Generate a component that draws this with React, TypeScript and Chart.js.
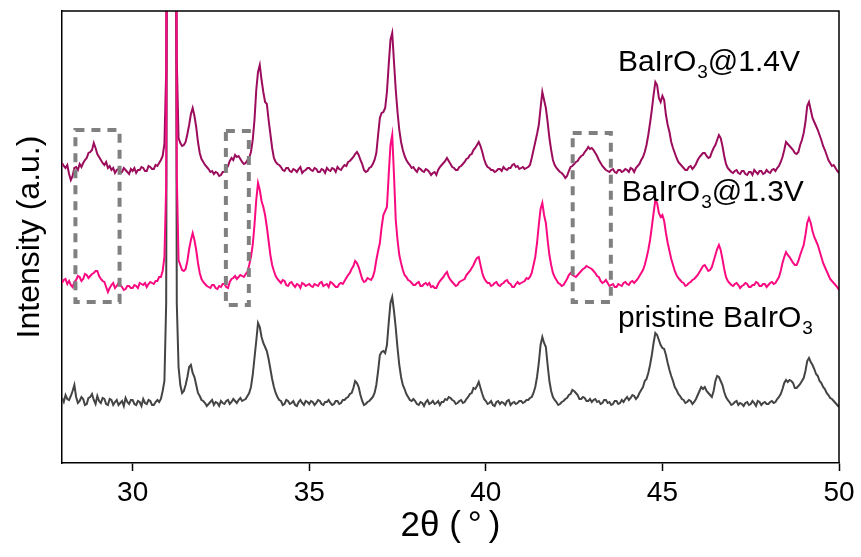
import React, { useEffect, useRef } from "react";
import { Chart, registerables } from "chart.js";

Chart.register(...registerables);

// XRD scan grid (uniform step scan)
const angleStart = 28.0;
const angleStep = 0.05;

// Intensities above each pattern's own baseline (a.u.), one value per 0.05° step, 28.00° → 50.00°
const pristineCounts = [
  5, 1, 8, 4, 3, 7, 12, 18, 6, 0, 2, 6, 4, -2, -1, 5, 6, 9, 3, -1,
  7, 2, 0, 5, 4, -1, -2, 4, 3, -2, 1, 3, -2, 0, 2, -3, 5, 1, -1, 3,
  3, -1, -2, 2, 1, -3, 4, 0, -1, 3, 2, -2, -2, 1, 3, 1, 4, 12, 22, 100,
  900, 1100, 1050, 1000, 850, 100, 36, 18, 10, 12, 18, 26, 36, 38, 30, 26, 18, 10, 7, 3,
  2, 0, -3, -1, 1, 3, -2, 1, 0, -3, 2, 0, -1, 2, 3, -1, 1, 4, 2, 0,
  3, 5, 2, 3, 4, 7, 10, 16, 28, 45, 62, 80, 76, 66, 60, 56, 52, 44, 34, 24,
  16, 10, 6, 3, 2, -2, -1, 3, 2, -1, 0, 2, -2, -3, 1, 3, 0, -2, 2, 1,
  -1, 2, 1, -2, 0, 3, 2, -1, -2, 1, 1, 3, 0, -2, -1, 2, 2, -1, 0, 3,
  3, 5, 6, 9, 10, 15, 22, 20, 16, 8, 2, -2, -1, 1, 2, 4, 6, 10, 18, 32,
  48, 51, 52, 50, 58, 80, 100, 106, 92, 75, 55, 38, 26, 18, 14, 9, 6, 3, 2, 4,
  2, -1, -2, 1, 0, -3, 1, 3, -1, 0, 2, -1, 0, 2, -2, 1, 1, 4, 3, 6,
  5, 3, 2, -1, 0, 2, 3, 0, 1, 4, 6, 9, 10, 15, 14, 17, 21, 15, 9, 4,
  2, -1, 0, 2, -2, -3, 1, 2, -1, 1, 0, -2, 2, 3, -2, 0, 1, -1, 0, 2,
  2, 0, 1, 3, 3, 5, 6, 10, 16, 26, 40, 58, 66, 60, 56, 38, 22, 12, 6, 3,
  1, -2, -1, 1, 2, 4, 5, 8, 9, 13, 12, 10, 8, 4, 4, 6, 5, 2, 2, 4,
  1, 3, 4, 1, 2, -1, 0, 3, 3, 0, 1, -2, -1, 2, 2, -1, 0, 3, 1, 4,
  6, 3, 5, 8, 7, 4, 6, 10, 13, 16, 22, 24, 30, 38, 48, 60, 70, 68, 63, 58,
  55, 54, 48, 40, 33, 27, 22, 16, 13, 9, 7, 4, 3, 0, 1, 3, 2, -1, 1, 4,
  8, 12, 16, 14, 16, 12, 10, 8, 6, 12, 22, 27, 26, 22, 18, 11, 6, 3, 1, -2,
  -1, 1, 2, -2, 0, -1, -3, 0, 1, -2, -1, 2, 0, -3, 2, 1, -2, 0, 1, -1,
  -1, 1, 2, 0, 1, 4, 6, 9, 14, 20, 23, 21, 23, 22, 20, 15, 15, 17, 19, 22,
  25, 32, 42, 45, 41, 38, 34, 29, 27, 22, 20, 16, 14, 10, 8, 5, 4, 2, 0, -2,
  -4,
];

const v13Counts = [
  2, 5, 6, 1, 4, 0, -2, 3, 5, 9, 8, 4, 6, 11, 10, 7, 9, 11, 12, 14,
  14, 9, 6, 4, 3, -2, -7, -3, 0, 2, -3, -1, 2, 0, -2, -5, -4, -1, -1, -3,
  -3, 0, -1, -3, 2, 1, 0, 2, -2, 1, 3, 2, 1, 4, 4, 8, 8, 14, 28, 100,
  900, 1100, 1050, 1000, 850, 110, 25, 20, 15, 14, 16, 24, 36, 45, 52, 45, 35, 22, 12, 6,
  3, 1, -1, -2, -3, 0, 0, -3, -4, -1, -2, 1, 1, -2, -3, 3, 6, 7, 9, 6,
  8, 10, 9, 8, 11, 13, 20, 28, 40, 60, 85, 102, 95, 84, 78, 70, 58, 44, 30, 20,
  14, 9, 6, 4, 2, 5, 4, 0, -1, 2, 3, 0, -2, 1, 0, -3, 2, 1, -1, 0,
  1, -1, -2, 1, 0, -1, 2, 3, -1, 0, 1, -2, 3, 2, 0, -2, -2, 1, 2, 1,
  4, 7, 10, 12, 16, 19, 24, 22, 18, 12, 6, 3, 4, 7, 6, 5, 8, 14, 25, 34,
  42, 58, 70, 74, 78, 110, 140, 150, 110, 65, 45, 30, 22, 15, 10, 8, 5, 4, 2, 0,
  0, 2, 3, -1, -1, 1, 2, 0, 2, -2, -1, -3, -3, 1, 4, 6, 8, 11, 13, 8,
  5, 3, 1, -1, 0, 3, 4, 5, 6, 10, 12, 14, 17, 20, 24, 27, 28, 20, 12, 7,
  4, 2, 2, -1, 0, 2, 3, 0, -1, 1, 2, 4, 5, 2, 1, -2, -2, 1, 3, 1,
  2, 3, 4, 7, 6, 8, 12, 20, 28, 42, 60, 76, 82, 70, 62, 45, 30, 20, 12, 8,
  5, 2, 1, -1, 0, 3, 6, 10, 12, 10, 9, 8, 10, 12, 14, 16, 17, 19, 18, 17,
  16, 14, 12, 9, 8, 4, 2, 3, 5, 2, -1, 0, 1, -2, -2, 1, 0, -1, 2, 3,
  1, 0, 3, 4, 2, 4, 6, 9, 12, 15, 20, 27, 35, 45, 58, 72, 85, 82, 72, 68,
  70, 64, 52, 42, 34, 26, 20, 14, 10, 7, 5, 3, 2, -1, 0, 2, 3, 5, 6, 8,
  10, 13, 16, 19, 20, 17, 14, 15, 18, 24, 30, 36, 40, 35, 26, 16, 8, 4, 2, 0,
  -1, 1, 2, 0, -3, -1, 0, 2, 1, -2, -2, 0, 0, 3, 2, -1, -1, 1, 1, -2,
  0, 2, 3, 1, 2, 5, 8, 14, 22, 28, 33, 30, 28, 25, 22, 20, 20, 24, 30, 35,
  40, 50, 62, 67, 62, 54, 48, 44, 40, 34, 28, 22, 18, 14, 10, 6, 4, 2, 0, -2,
  -5,
];

const v14Counts = [
  7, 4, 2, 5, -4, -10, -6, 2, 3, 0, 6, 3, 7, 10, 12, 17, 18, 20, 27, 22,
  16, 13, 10, 7, 5, 8, 2, 4, 0, 2, -3, 0, 1, -3, -2, 2, 0, -2, -4, 1,
  -1, 2, -3, 0, 0, 3, 2, -1, -1, 4, 3, 1, 1, 5, 4, 7, 10, 14, 26, 100,
  900, 1100, 1050, 1000, 850, 110, 32, 27, 24, 25, 28, 36, 45, 56, 62, 54, 43, 28, 17, 11,
  8, 5, 3, 1, -2, -1, -4, -2, -3, -6, -5, -2, -2, 1, 4, 9, 12, 10, 15, 13,
  14, 11, 8, 6, 7, 10, 12, 18, 30, 50, 80, 98, 105, 90, 78, 68, 66, 50, 36, 22,
  12, 8, 6, 5, 3, 0, -1, 2, 2, -1, -2, 1, 0, -2, 1, 3, -3, -1, 0, 2,
  2, 0, -1, 2, 1, -2, -2, 1, 0, -3, 2, 0, -1, 2, 1, -2, 3, 1, 0, 3,
  5, 4, 8, 9, 11, 13, 16, 18, 15, 10, 6, 0, -2, -1, 2, 3, 6, 10, 17, 35,
  52, 57, 58, 62, 78, 105, 130, 137, 108, 80, 58, 40, 28, 20, 14, 10, 7, 5, 2, 3,
  0, -2, 2, 1, -1, -2, 1, 0, -2, -5, -3, -2, -5, 0, 3, 5, 7, 9, 12, 9,
  6, 3, 2, 0, 0, 3, 4, 6, 8, 11, 12, 15, 16, 20, 22, 25, 28, 24, 18, 11,
  6, 3, 2, 0, 0, -2, -1, 1, 1, -1, 3, 1, 0, 2, 2, 5, 6, 3, 4, 1,
  2, 3, 1, 2, 3, 5, 12, 20, 28, 36, 45, 62, 78, 70, 62, 48, 32, 20, 10, 5,
  2, 0, -2, -3, -5, -8, -6, -1, 3, 4, 6, 8, 9, 12, 14, 15, 18, 20, 23, 21,
  22, 20, 17, 14, 10, 7, 4, 2, 0, -1, -2, 0, 1, -2, -3, 0, 0, -2, -1, 1,
  0, -2, 2, 1, -2, 2, 4, 6, 10, 13, 18, 25, 35, 47, 60, 75, 88, 85, 72, 68,
  74, 70, 55, 45, 38, 28, 22, 17, 12, 8, 6, 4, 2, 0, 0, 3, 4, 1, 3, 6,
  10, 13, 15, 17, 17, 14, 12, 13, 18, 22, 25, 30, 35, 32, 24, 14, 6, 2, 0, -2,
  -3, -1, 0, -3, -4, -1, -1, -4, -5, -2, -2, -5, 0, -2, -4, -1, -1, -4, -3, 0,
  -2, -3, 0, 1, -1, 2, 4, 8, 13, 20, 28, 26, 24, 22, 20, 17, 16, 18, 25, 30,
  37, 48, 64, 68, 60, 52, 48, 44, 40, 35, 30, 24, 20, 15, 10, 7, 4, 5, 2, -1,
  -3,
];

// vertical stacking offsets
const pristineOffset = 60;
const v13Offset = 178;
const v14Offset = 293;

const xTicks = [30, 35, 40, 45, 50];

// dashed highlight boxes (2θ range, intensity range)
const boxX0 = [28.38, 32.64, 42.46];
const boxX1 = [29.63, 33.29, 43.54];
const boxTop = [333, 332, 330];
const boxBottom = [161, 158, 161];

// curve labels
const labelX = [43.74, 43.85, 43.74];
const labelY = [392, 262, 136];
const labelMain = ["BaIrO", "BaIrO", "pristine BaIrO"];
const labelSub = ["3", "3", "3"];
const labelTail = ["@1.4V", "@1.3V", ""];

const FONT = "'Liberation Sans', Arial, Helvetica, sans-serif";

function toPoints(vals: number[], offset: number) {
  return vals.map((v, i) => ({ x: angleStart + i * angleStep, y: v + offset }));
}

const overlayPlugin = {
  id: "overlay",
  afterDatasetsDraw(chart: any) {
    const { ctx, scales } = chart;
    const x = scales.x;
    const y = scales.y;
    ctx.save();
    // dashed boxes
    ctx.strokeStyle = "#808080";
    ctx.lineWidth = 4;
    ctx.setLineDash([9, 7]);
    for (let i = 0; i < boxX0.length; i++) {
      const l = x.getPixelForValue(boxX0[i]);
      const r = x.getPixelForValue(boxX1[i]);
      const t = y.getPixelForValue(boxTop[i]);
      const b = y.getPixelForValue(boxBottom[i]);
      ctx.strokeRect(l, t, r - l, b - t);
    }
    ctx.setLineDash([]);
    // labels
    ctx.fillStyle = "#000";
    ctx.textBaseline = "alphabetic";
    ctx.textAlign = "left";
    for (let i = 0; i < labelMain.length; i++) {
      const px = x.getPixelForValue(labelX[i]);
      const py = y.getPixelForValue(labelY[i]);
      ctx.font = `30px ${FONT}`;
      ctx.fillText(labelMain[i], px, py);
      const w1 = ctx.measureText(labelMain[i]).width;
      ctx.font = `19px ${FONT}`;
      ctx.fillText(labelSub[i], px + w1 + 1, py + 7);
      const w2 = ctx.measureText(labelSub[i]).width;
      ctx.font = `30px ${FONT}`;
      if (labelTail[i]) ctx.fillText(labelTail[i], px + w1 + w2 + 1, py);
    }
    ctx.restore();
  },
  afterDraw(chart: any) {
    const { ctx, chartArea } = chart;
    ctx.save();
    ctx.strokeStyle = "#000";
    ctx.lineWidth = 1.5;
    ctx.beginPath();
    ctx.moveTo(chartArea.left, chartArea.top);
    ctx.lineTo(chartArea.right, chartArea.top);
    ctx.lineTo(chartArea.right, chartArea.bottom);
    ctx.stroke();
    ctx.restore();
  },
};

export default function App() {
  const canvasRef = useRef<HTMLCanvasElement | null>(null);

  useEffect(() => {
    document.body.style.margin = "0";
    const canvas = canvasRef.current;
    if (!canvas) return;
    Chart.defaults.font.family = FONT;
    const lineStyle = { borderWidth: 2, pointRadius: 0, tension: 0, fill: false };
    const chart = new Chart(canvas, {
      type: "line",
      data: {
        datasets: [
          { label: "BaIrO3@1.3V", data: toPoints(v13Counts, v13Offset), borderColor: "#fa0a80", ...lineStyle },
          { label: "BaIrO3@1.4V", data: toPoints(v14Counts, v14Offset), borderColor: "#9c0c5c", ...lineStyle },
          { label: "pristine BaIrO3", data: toPoints(pristineCounts, pristineOffset), borderColor: "#444444", ...lineStyle },
        ],
      },
      options: {
        responsive: false,
        animation: false,
        devicePixelRatio: 1,
        layout: { padding: { top: 11, right: 22, left: 0, bottom: 0 } },
        plugins: {
          legend: { display: false },
          tooltip: { enabled: false },
        },
        scales: {
          x: {
            type: "linear",
            min: 28,
            max: 50,
            afterBuildTicks: (s: any) => {
              s.ticks = xTicks.map((v) => ({ value: v }));
            },
            afterFit: (s: any) => {
              s.height = 94;
            },
            ticks: {
              color: "#000",
              font: { size: 28, family: FONT },
              padding: 5,
              maxRotation: 0,
              autoSkip: false,
            },
            grid: {
              display: true,
              drawOnChartArea: false,
              drawTicks: true,
              tickLength: 8,
              tickColor: "#000",
              tickWidth: 1.5,
            },
            border: { display: true, color: "#000", width: 1.5 },
            title: {
              display: true,
              text: "2θ (\u2009°\u2009)",
              color: "#000",
              font: { size: 35, family: FONT },
              padding: { top: 0, bottom: 10 },
            },
          },
          y: {
            type: "linear",
            min: 0,
            max: 452,
            afterFit: (s: any) => {
              s.width = 62;
            },
            ticks: { display: false },
            grid: { display: false, drawTicks: false },
            border: { display: true, color: "#000", width: 1.5 },
            title: {
              display: true,
              text: "Intensity (a.u.)",
              color: "#000",
              font: { size: 32, family: FONT },
              padding: { top: 11, bottom: 0 },
            },
          },
        },
      },
      plugins: [overlayPlugin],
    });
    return () => chart.destroy();
  }, []);

  return (
    <div style={{ width: 861, height: 557 }}>
      <canvas ref={canvasRef} width={861} height={557} />
    </div>
  );
}
